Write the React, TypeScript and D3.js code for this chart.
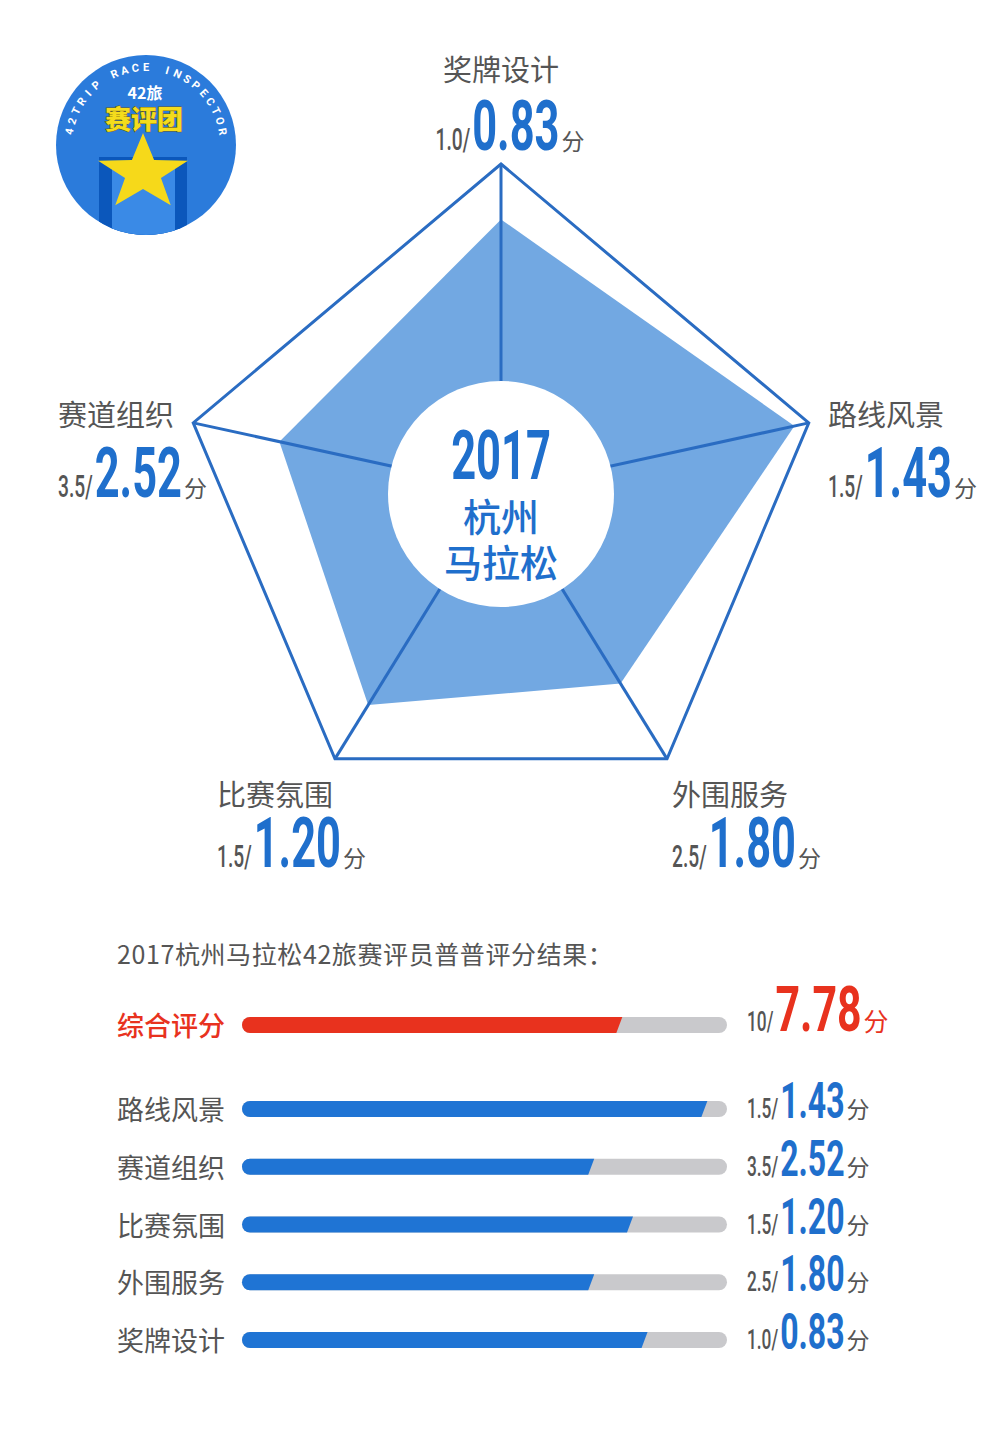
import React, { useEffect, useRef } from "react";
import * as d3 from "d3";

// radar axes, clockwise from the top
const radarAxes = ["奖牌设计", "路线风景", "外围服务", "比赛氛围", "赛道组织"];
const radarMax = [1.0, 1.5, 2.5, 1.5, 3.5];
const radarScores = [0.83, 1.43, 1.8, 1.2, 2.52];

// bar list at the bottom
const barLabels = ["路线风景", "赛道组织", "比赛氛围", "外围服务", "奖牌设计"];
const barMax = [1.5, 3.5, 1.5, 2.5, 1.0];
const barScores = [1.43, 2.52, 1.2, 1.8, 0.83];

const totalLabel = "综合评分";
const totalMax = 10;
const totalScore = 7.78;

const listTitle = "2017杭州马拉松42旅赛评员普普评分结果：";
const centerYear = "2017";
const centerLines = ["杭州", "马拉松"];
const unit = "分";
const badgeRing = "42TRIP RACE INSPECTOR";
const badgeTop = "42旅";
const badgeName = "赛评团";

const W = 1001;
const H = 1430;
const CX = 501;
const CY = 490;
// the pentagon is not regular in the original
const axisAngles = [0, 77.7, 148.3, 211.7, 282.3];
const axisLen = [326, 315, 316, 316, 315];
const labelPos = [
  { x: 510, anchor: "middle", ty: 81, ny: 150 },
  { x: 828, anchor: "start", ty: 426, ny: 497 },
  { x: 672, anchor: "start", ty: 806, ny: 867 },
  { x: 217, anchor: "start", ty: 806, ny: 867 },
  { x: 58, anchor: "start", ty: 426, ny: 497 },
];

const BLUE = "#1f6fcc";
const LINE = "#2a6cc2";
const FILL = "#72a8e2";
const GRAY = "#555555";
const RED = "#e8321e";
const TRACK = "#c9c9cc";
const BAR = "#1f74d4";
const CJK = "'Noto Sans CJK SC', 'Noto Sans', sans-serif";
const NUM = "Roboto, 'Noto Sans', sans-serif";

const fmtMax = (m: number) => (m >= 10 ? String(m) : m.toFixed(1));
const rad = (deg: number) => (deg * Math.PI) / 180;

type ScoreOpts = {
  x: number;
  y: number;
  anchor: string;
  max: number;
  value: number;
  small: number;
  big: number;
  unitSize: number;
  sxSmall: number;
  sxBig: number;
  color: string;
};

// "max/" + big score + 分, condensed by a horizontal scale
function drawScore(parent: any, o: ScoreOpts) {
  const g = parent.append("g");
  const s = g
    .append("text")
    .attr("font-family", NUM)
    .attr("font-weight", 500)
    .attr("font-size", o.small)
    .attr("fill", GRAY)
    .text(fmtMax(o.max) + "/");
  const b = g
    .append("text")
    .attr("font-family", NUM)
    .attr("font-weight", 700)
    .attr("font-size", o.big)
    .attr("fill", o.color)
    .text(o.value.toFixed(2));
  const u = g
    .append("text")
    .attr("font-family", CJK)
    .attr("font-size", o.unitSize)
    .attr("fill", o.color === RED ? RED : GRAY)
    .text(unit);
  const ws = s.node().getComputedTextLength() * o.sxSmall;
  const wb = b.node().getComputedTextLength() * o.sxBig;
  const wu = u.node().getComputedTextLength();
  const total = ws + 2 + wb + 2 + wu;
  const x0 = o.anchor === "middle" ? o.x - total / 2 : o.x;
  s.attr("transform", `translate(${x0},${o.y}) scale(${o.sxSmall},1)`);
  b.attr("transform", `translate(${x0 + ws + 2},${o.y}) scale(${o.sxBig},1)`);
  u.attr("x", x0 + ws + 2 + wb + 2).attr("y", o.y);
}

function drawBadge(svg: any) {
  const cx = 146;
  const cy = 145;
  const r = 90;
  const g = svg.append("g");
  g.append("clipPath").attr("id", "badgeClip").append("circle").attr("cx", cx).attr("cy", cy).attr("r", r);
  g.append("circle").attr("cx", cx).attr("cy", cy).attr("r", r).attr("fill", "#2b7bdb");
  const inner = g.append("g").attr("clip-path", "url(#badgeClip)");
  inner.append("rect").attr("x", 99).attr("y", 157).attr("width", 88).attr("height", 90).attr("fill", "#0b57bb");
  inner.append("rect").attr("x", 112).attr("y", 165).attr("width", 63).attr("height", 90).attr("fill", "#3a8ae6");

  // star
  const sc = { x: 143, y: 173 };
  const R = 40;
  const pts: [number, number][] = d3.range(10).map((i) => {
    const rr = i % 2 === 0 ? R : R * 0.4;
    const a = (i * Math.PI) / 5;
    return [sc.x + rr * Math.sin(a) * 1.18, sc.y - rr * Math.cos(a)];
  });
  g.append("path")
    .attr("d", d3.line()(pts) + "Z")
    .attr("fill", "#f6d91a");

  // ring text, one letter at a time around the top
  const letters = badgeRing.split("");
  const ang = d3.scaleLinear().domain([0, letters.length - 1]).range([-80, 80]);
  const rr = 74;
  g.selectAll("text.ring")
    .data(letters)
    .join("text")
    .attr("class", "ring")
    .attr("transform", (_: string, i: number) => {
      const a = ang(i);
      return `translate(${cx + rr * Math.sin(rad(a))},${cy - rr * Math.cos(rad(a))}) rotate(${a})`;
    })
    .attr("text-anchor", "middle")
    .attr("font-family", NUM)
    .attr("font-weight", 700)
    .attr("font-size", 11)
    .attr("fill", "#fff")
    .text((d: string) => d);

  g.append("text")
    .attr("x", cx - 1)
    .attr("y", 99)
    .attr("text-anchor", "middle")
    .attr("font-family", CJK)
    .attr("font-weight", 700)
    .attr("font-size", 16)
    .attr("fill", "#fff")
    .text(badgeTop);
  g.append("text")
    .attr("x", cx - 2)
    .attr("y", 129)
    .attr("text-anchor", "middle")
    .attr("font-family", CJK)
    .attr("font-weight", 900)
    .attr("font-size", 26)
    .attr("fill", "#f4dc1c")
    .attr("stroke", "#6b5c12")
    .attr("stroke-width", 1)
    .attr("paint-order", "stroke")
    .text(badgeName);
}

function drawRadar(svg: any) {
  const scales = radarAxes.map((_, i) => d3.scaleLinear().domain([0, radarMax[i]]).range([0, axisLen[i]]));
  const radial = d3
    .lineRadial<number>()
    .angle((_, i) => rad(axisAngles[i]))
    .radius((d) => d)
    .curve(d3.curveLinearClosed);

  const g = svg.append("g").attr("transform", `translate(${CX},${CY})`);
  g.append("path")
    .attr("d", radial(axisLen))
    .attr("fill", "#fff")
    .attr("stroke", LINE)
    .attr("stroke-width", 3)
    .attr("stroke-linejoin", "miter");
  g.append("path")
    .attr("d", radial(radarScores.map((v, i) => scales[i](v))))
    .attr("fill", FILL);
  g.selectAll("line.spoke")
    .data(axisLen)
    .join("line")
    .attr("class", "spoke")
    .attr("x1", 0)
    .attr("y1", 0)
    .attr("x2", (r: number, i: number) => r * Math.sin(rad(axisAngles[i])))
    .attr("y2", (r: number, i: number) => -r * Math.cos(rad(axisAngles[i])))
    .attr("stroke", LINE)
    .attr("stroke-width", 3);

  g.append("circle").attr("cx", 0).attr("cy", 4).attr("r", 113).attr("fill", "#fff");
  g.append("text")
    .attr("transform", `translate(0,${-11}) scale(0.63,1)`)
    .attr("text-anchor", "middle")
    .attr("font-family", NUM)
    .attr("font-weight", 700)
    .attr("font-size", 69)
    .attr("fill", BLUE)
    .text(centerYear);
  centerLines.forEach((t, i) => {
    g.append("text")
      .attr("x", 0)
      .attr("y", 41 + i * 46)
      .attr("text-anchor", "middle")
      .attr("font-family", CJK)
      .attr("font-weight", 500)
      .attr("font-size", 38)
      .attr("fill", BLUE)
      .text(t);
  });

  radarAxes.forEach((name, i) => {
    const p = labelPos[i];
    svg
      .append("text")
      .attr("x", p.anchor === "middle" ? p.x - 9 : p.x)
      .attr("y", p.ty)
      .attr("text-anchor", p.anchor)
      .attr("font-family", CJK)
      .attr("font-size", 29)
      .attr("fill", GRAY)
      .text(name);
    drawScore(svg, {
      x: p.x,
      y: p.ny,
      anchor: p.anchor,
      max: radarMax[i],
      value: radarScores[i],
      small: 31,
      big: 70,
      unitSize: 23,
      sxSmall: 0.62,
      sxBig: 0.62,
      color: BLUE,
    });
  });
}

function barPath(x0: number, x1: number, yc: number, h: number) {
  const r = h / 2;
  const s = 3;
  return `M${x0 + r},${yc - r} L${x1 + s},${yc - r} L${x1 - s},${yc + r} L${x0 + r},${yc + r} A${r},${r} 0 0 1 ${x0 + r},${yc - r} Z`;
}

function drawBars(svg: any) {
  const x0 = 242;
  const x1 = 727;
  const h = 16;
  svg
    .append("text")
    .attr("x", 117)
    .attr("y", 964)
    .attr("font-family", CJK)
    .attr("font-size", 25)
    .attr("letter-spacing", 0.6)
    .attr("fill", GRAY)
    .text(listTitle);

  const row = (label: string, max: number, value: number, yc: number, total: boolean) => {
    const x = d3.scaleLinear().domain([0, max]).range([x0, x1]);
    svg
      .append("text")
      .attr("x", 117)
      .attr("y", yc + 11)
      .attr("font-family", CJK)
      .attr("font-weight", total ? 500 : 400)
      .attr("font-size", 27)
      .attr("fill", total ? RED : GRAY)
      .text(label);
    svg
      .append("rect")
      .attr("x", x0)
      .attr("y", yc - h / 2)
      .attr("width", x1 - x0)
      .attr("height", h)
      .attr("rx", h / 2)
      .attr("fill", TRACK);
    svg
      .append("path")
      .attr("d", barPath(x(0), x(value), yc, h))
      .attr("fill", total ? RED : BAR);
    drawScore(svg, {
      x: 747,
      y: total ? yc + 6 : yc + 9,
      anchor: "start",
      max,
      value,
      small: 27,
      big: total ? 63 : 50,
      unitSize: total ? 25 : 23,
      sxSmall: 0.64,
      sxBig: total ? 0.68 : 0.64,
      color: total ? RED : BLUE,
    });
  };

  row(totalLabel, totalMax, totalScore, 1025, true);
  const y = d3.scalePoint<string>().domain(barLabels).range([1109, 1340]);
  barLabels.forEach((l, i) => row(l, barMax[i], barScores[i], y(l) as number, false));
}

export default function App() {
  const ref = useRef<SVGSVGElement>(null);
  useEffect(() => {
    document.body.style.margin = "0";
    const draw = () => {
      const svg = d3.select(ref.current);
      svg.selectAll("*").remove();
      svg.append("rect").attr("width", W).attr("height", H).attr("fill", "#fff");
      drawBadge(svg);
      drawRadar(svg);
      drawBars(svg);
    };
    document.fonts.ready.then(draw);
  }, []);
  return <svg ref={ref} width={W} height={H} style={{ display: "block" }} />;
}
